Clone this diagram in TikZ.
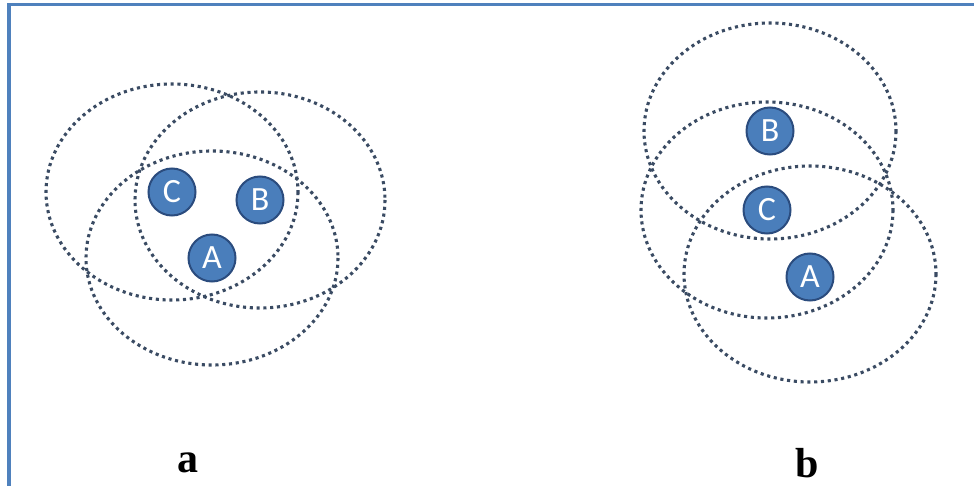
\documentclass[tikz,border=0pt]{standalone}
\usepackage{fontspec}
\setmainfont{Liberation Serif}
\newfontfamily\nodefont{Carlito}
\definecolor{frameblue}{HTML}{4F81BD}
\definecolor{dotcol}{HTML}{3A4B63}
\definecolor{ballfill}{HTML}{4A7EBB}
\definecolor{balledge}{HTML}{2B4C7E}
\begin{document}
\begin{tikzpicture}[x=1pt,y=-1pt,
  dotring/.style={draw=dotcol, line width=3.1pt, dash pattern=on 3.1pt off 3.7pt},
  ball/.style={circle, fill=ballfill, draw=balledge, line width=2pt, minimum size=47pt, inner sep=0pt,
    text=white, font=\nodefont\fontsize{34}{34}\selectfont},
  panellabel/.style={anchor=base, font=\bfseries\fontsize{42}{42}\selectfont, text=black}]
\fill[white] (0,0) rectangle (974,486);
\useasboundingbox (0,0) rectangle (974,486);
% frame
\draw[frameblue, line width=3.6pt] (9.2,486) -- (9.2,4.4) -- (974,4.4);
% panel a centres
\coordinate (ca) at (212,258);
\coordinate (cb) at (260,200);
\coordinate (cc) at (172,192);
% panel b centres
\coordinate (db) at (770,131);
\coordinate (dc) at (767,210);
\coordinate (da) at (810,274);
% rings
\draw[dotring] (cc) ellipse [x radius=126, y radius=108];
\draw[dotring] (cb) ellipse [x radius=125, y radius=108];
\draw[dotring] (ca) ellipse [x radius=126, y radius=107];
\draw[dotring] (db) ellipse [x radius=126, y radius=108];
\draw[dotring] (dc) ellipse [x radius=126, y radius=108];
\draw[dotring] (da) ellipse [x radius=126, y radius=108];
% balls
\node[ball] (nA) at (212,258) {A};
\node[ball] (nB) at (260,200) {B};
\node[ball] (nC) at (172,192) {C};
\node[ball] (mB) at (770,131) {B};
\node[ball] (mC) at (767,210) {C};
\node[ball] (mA) at (810,277) {A};
% labels
\node[panellabel] (la) at (188,472) {a};
\node[panellabel] (lb) at (807,477) {b};
\end{tikzpicture}
\end{document}
